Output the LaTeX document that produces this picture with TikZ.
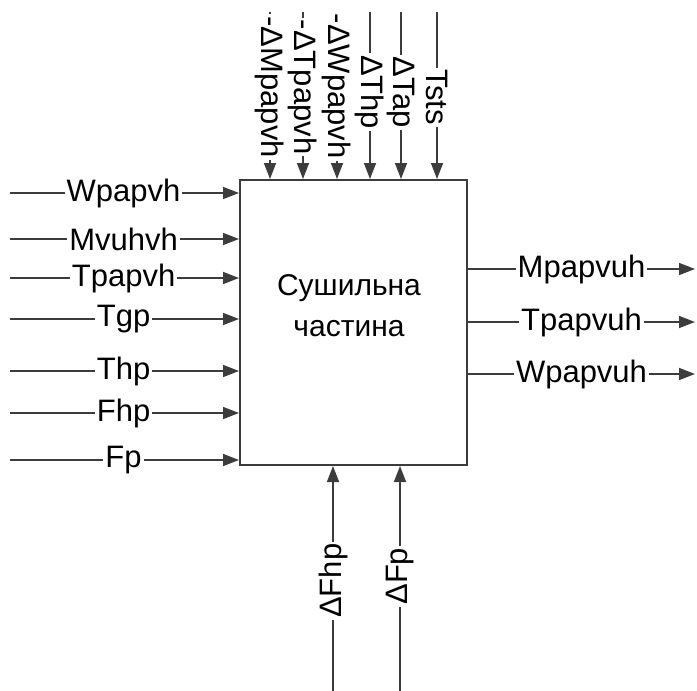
\documentclass[tikz,border=0pt]{standalone}
\usepackage{fontspec}
\setmainfont{Liberation Sans}
\usetikzlibrary{arrows.meta}
\definecolor{ln}{RGB}{60,60,60}
\tikzset{
  arr/.style={draw=ln, line width=1.5pt, -{Triangle[length=16pt,width=12pt]}},
  lbl/.style={fill=white, inner xsep=2pt, inner ysep=0pt, font=\fontsize{31}{35}\selectfont, text=black},
  boxst/.style={draw=ln, line width=2pt, fill=white, minimum width=227pt, minimum height=285pt, inner sep=0pt},
}
\begin{document}
\begin{tikzpicture}[x=1pt,y=-1pt]
\useasboundingbox (0,0) rectangle (697,691);
\node[boxst] (box) at (353.5,322.5) {};
\node[font=\fontsize{30}{41}\selectfont, align=center] (title) at (349,306) {Сушильна\\частина};
% left inputs
\foreach \n/\y/\t in {l1/193/Wpapvh, l2/239/Mvuhvh, l3/278/Tpapvh, l4/319/Tgp, l5/371/Thp, l6/413/Fhp, l7/460/Fp}{
  \coordinate (\n) at (10,\y);
  \draw[arr] (\n) -- (\n -| box.west) node[lbl, pos=0.496] {\t};
}
% top controls
\foreach \n/\x/\p/\t in {t1/270/0.45/{-ΔMpapvh}, t2/303/0.45/{-ΔTpapvh}, t3/337/0.445/{-ΔWpapvh}, t4/370/0.48/{ΔThp}, t5/401/0.48/{ΔTap}, t6/437/0.51/{Tsts}}{
  \coordinate (\n) at (\x,12);
  \draw[arr] (\n) -- (\n |- box.north) node[lbl, pos=\p, rotate=-90] {\t};
}
% right outputs
\foreach \n/\y/\t in {r1/269/Mpapvuh, r2/322/Tpapvuh, r3/374/Wpapvuh}{
  \coordinate (\n) at (695,\y);
  \draw[arr] (\n -| box.east) -- (\n) node[lbl, pos=0.5] {\t};
}
% bottom mechanisms
\foreach \n/\x/\p/\t in {b1/333/0.49/{ΔFhp}, b2/400/0.51/{ΔFp}}{
  \coordinate (\n) at (\x,691);
  \draw[arr] (\n) -- (\n |- box.south) node[lbl, pos=\p, rotate=90] {\t};
}
\end{tikzpicture}
\end{document}
